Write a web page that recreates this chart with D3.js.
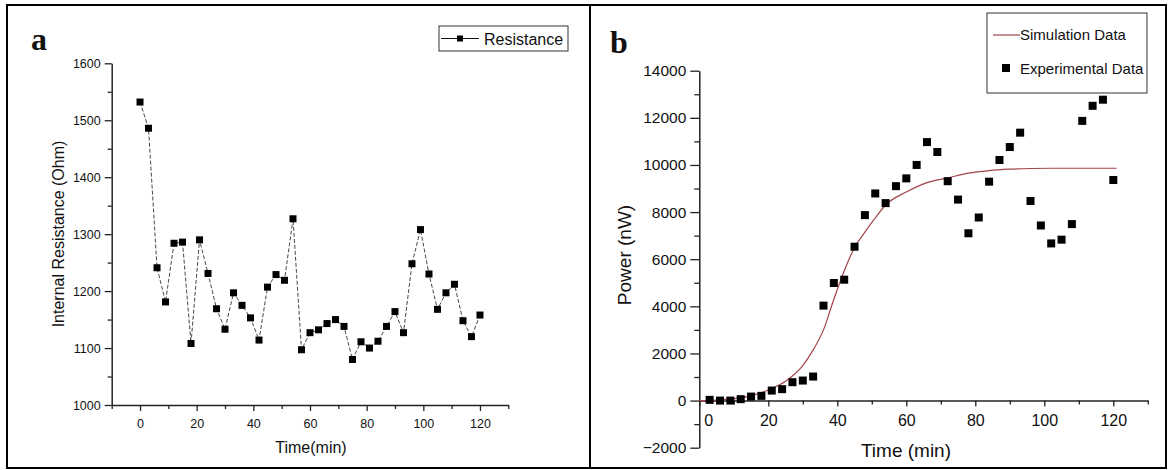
<!DOCTYPE html>
<html><head><meta charset="utf-8">
<script src="https://cdn.jsdelivr.net/npm/d3@7"></script>
<style>body{margin:0;background:#fff}svg{display:block}text{font-family:Arial,"Liberation Sans",sans-serif;fill:#111}</style>
</head><body><svg id="c" width="1169" height="470"></svg>
<script>
// Panel a: internal resistance
const timeA = [0,3,6,9,12,15,18,21,24,27,30,33,36,39,42,45,48,51,54,57,60,63,66,69,72,75,78,81,84,87,90,93,96,99,102,105,108,111,114,117,120];
const resistance = [1532,1486,1241,1181,1284,1286,1108,1290,1231,1169,1133,1197,1175,1153,1114,1207,1229,1219,1327,1097,1127,1132,1143,1150,1138,1080,1111,1100,1112,1138,1164,1127,1248,1308,1230,1168,1197,1212,1148,1120,1158];
const ticksAx = [0,20,40,60,80,100,120];
const ticksAy = [1000,1100,1200,1300,1400,1500,1600];
// Panel b: power
const timeB = [3,6,9,12,15,18,21,24,27,30,33,36,39,42,45,48,51,54,57,60,63,66,69,72,75,78,81,84,87,90,93,96,99,102,105,108,111,114,117,120];
const powerExp = [30,0,0,60,170,200,425,485,780,850,1020,4030,4990,5130,6530,7870,8790,8380,9100,9430,10000,10970,10550,9310,8530,7100,7770,9290,10210,10760,11370,8470,7430,6670,6830,7490,11870,12510,12770,9360];
const simTime = [0,5,10,15,20,25,30,33,36,39,42,45,48,51,54,60,66,72,78,84,90,96,102,110,121];
const simPower = [0,20,80,200,450,820,1480,2150,3000,4300,5500,6500,7150,7750,8300,8850,9250,9450,9650,9760,9820,9850,9860,9860,9860];
const ticksBx = [0,20,40,60,80,100,120];
const ticksBy = [-2000,0,2000,4000,6000,8000,10000,12000,14000];

const svg = d3.select("#c");
const axisCol = "#222";

// frame
svg.append("rect").attr("x",7).attr("y",5).attr("width",1159).attr("height",463).attr("fill","none").attr("stroke","#000").attr("stroke-width",2);
svg.append("line").attr("x1",590).attr("x2",590).attr("y1",5).attr("y2",468).attr("stroke","#000").attr("stroke-width",2);

function styleAxis(g){
  g.select(".domain").attr("stroke",axisCol).attr("stroke-width",1.5);
  g.selectAll(".tick line").attr("stroke",axisCol).attr("stroke-width",1.3);
}

// ---------- Panel a ----------
const xA = d3.scaleLinear().domain([-10,130]).range([111.7,508.3]);
const yA = d3.scaleLinear().domain([1000,1600]).range([405,63.3]);

const gA = svg.append("g");
// minor ticks
gA.append("g").attr("transform","translate(111.7,0)")
  .call(d3.axisLeft(yA).tickValues([1050,1150,1250,1350,1450,1550]).tickSize(4).tickFormat(""))
  .call(g=>{g.select(".domain").remove();g.selectAll("line").attr("stroke",axisCol).attr("stroke-width",1.3);});
gA.append("g").attr("transform","translate(0,405)")
  .call(d3.axisBottom(xA).tickValues([-10,10,30,50,70,90,110,130]).tickSize(4).tickFormat(""))
  .call(g=>{g.select(".domain").remove();g.selectAll("line").attr("stroke",axisCol).attr("stroke-width",1.3);});
const yAxA = gA.append("g").attr("transform","translate(111.7,0)")
  .call(d3.axisLeft(yA).tickValues(ticksAy).tickSize(7).tickSizeOuter(0).tickPadding(4).tickFormat(d3.format("d")))
  .call(styleAxis);
yAxA.selectAll("text").attr("font-size",12.5).attr("fill","#222");
const xAxA = gA.append("g").attr("transform","translate(0,405)")
  .call(d3.axisBottom(xA).tickValues(ticksAx).tickSize(6).tickSizeOuter(0).tickPadding(8).tickFormat(d3.format("d")))
  .call(styleAxis);
xAxA.selectAll("text").attr("font-size",12.5).attr("fill","#222");

const lineA = d3.line().x((d,i)=>xA(timeA[i])).y(d=>yA(d));
gA.append("path").datum(resistance).attr("d",lineA).attr("fill","none").attr("stroke","#333").attr("stroke-width",0.9).attr("stroke-dasharray","4,2");
gA.selectAll("rect.ma").data(resistance).join("rect").attr("class","ma")
  .attr("x",(d,i)=>xA(timeA[i])-3.5).attr("y",d=>yA(d)-3.5).attr("width",7).attr("height",7).attr("fill","#000");

gA.append("text").attr("x",311).attr("y",453).attr("text-anchor","middle").attr("font-size",16).text("Time(min)");
gA.append("text").attr("transform","translate(64,234) rotate(-90)").attr("text-anchor","middle").attr("font-size",16).text("Internal Resistance (Ohm)");
gA.append("text").attr("x",31).attr("y",50).attr("font-size",32).attr("font-weight","bold").style("font-family","'Liberation Serif','Times New Roman',serif").text("a");

// legend a
gA.append("rect").attr("x",439).attr("y",26).attr("width",129).attr("height",25).attr("fill","#fff").attr("stroke","#333").attr("stroke-width",1);
gA.append("line").attr("x1",441).attr("x2",479).attr("y1",38.5).attr("y2",38.5).attr("stroke","#111").attr("stroke-width",1);
gA.append("rect").attr("x",457).attr("y",35.5).attr("width",6).attr("height",6).attr("fill","#000");
gA.append("text").attr("x",484).attr("y",44.5).attr("font-size",16).text("Resistance");

// ---------- Panel b ----------
const xB = d3.scaleLinear().domain([0,130]).range([699.3,1147.8]);
const yB = d3.scaleLinear().domain([-2000,14000]).range([447.7,70.7]);
const gB = svg.append("g");
gB.append("g").attr("transform","translate(699.3,0)")
  .call(d3.axisLeft(yB).tickValues([-1000,1000,3000,5000,7000,9000,11000,13000]).tickSize(5).tickFormat(""))
  .call(g=>{g.select(".domain").remove();g.selectAll("line").attr("stroke",axisCol).attr("stroke-width",1.3);});
gB.append("g").attr("transform",`translate(0,${yB(0)})`)
  .call(d3.axisBottom(xB).tickValues([10,30,50,70,90,110,130]).tickSize(4).tickFormat(""))
  .call(g=>{g.select(".domain").remove();g.selectAll("line").attr("stroke",axisCol).attr("stroke-width",1.3);});
const yAxB = gB.append("g").attr("transform","translate(699.3,0)")
  .call(d3.axisLeft(yB).tickValues(ticksBy).tickSize(9).tickSizeOuter(0).tickPadding(4).tickFormat(d3.format("d")))
  .call(styleAxis);
yAxB.selectAll("text").attr("font-size",15.5).attr("fill","#222");
const xAxB = gB.append("g").attr("transform",`translate(0,${yB(0)})`)
  .call(d3.axisBottom(xB).tickValues(ticksBx).tickSize(6).tickSizeOuter(0).tickPadding(8).tickFormat(d3.format("d")))
  .call(styleAxis);
xAxB.selectAll("text").attr("font-size",16).attr("fill","#222");
xAxB.selectAll(".tick").filter(d=>d===0).select("text").attr("dx",9);

const lineB = d3.line().x((d,i)=>xB(simTime[i])).y(d=>yB(d)).curve(d3.curveMonotoneX);
gB.append("path").datum(simPower).attr("d",lineB).attr("fill","none").attr("stroke","#a2444a").attr("stroke-width",1.2);
gB.selectAll("rect.mb").data(powerExp).join("rect").attr("class","mb")
  .attr("x",(d,i)=>xB(timeB[i])-4).attr("y",d=>yB(d)-4).attr("width",8).attr("height",8).attr("fill","#000");

gB.append("text").attr("x",906).attr("y",457).attr("text-anchor","middle").attr("font-size",19).text("Time (min)");
gB.append("text").attr("transform","translate(631,255) rotate(-90)").attr("text-anchor","middle").attr("font-size",19).text("Power (nW)");
gB.append("text").attr("x",610).attr("y",53).attr("font-size",32).attr("font-weight","bold").style("font-family","'Liberation Serif','Times New Roman',serif").text("b");

// legend b
gB.append("rect").attr("x",987).attr("y",13).attr("width",160).attr("height",80).attr("fill","#fff").attr("stroke","#333").attr("stroke-width",1);
gB.append("line").attr("x1",993).attr("x2",1020).attr("y1",35).attr("y2",35).attr("stroke","#a2444a").attr("stroke-width",1.2);
gB.append("text").attr("x",1020).attr("y",40).attr("font-size",15).text("Simulation Data");
gB.append("rect").attr("x",1002).attr("y",64).attr("width",8).attr("height",8).attr("fill","#000");
gB.append("text").attr("x",1020).attr("y",74).attr("font-size",15).text("Experimental Data");
</script></body></html>
